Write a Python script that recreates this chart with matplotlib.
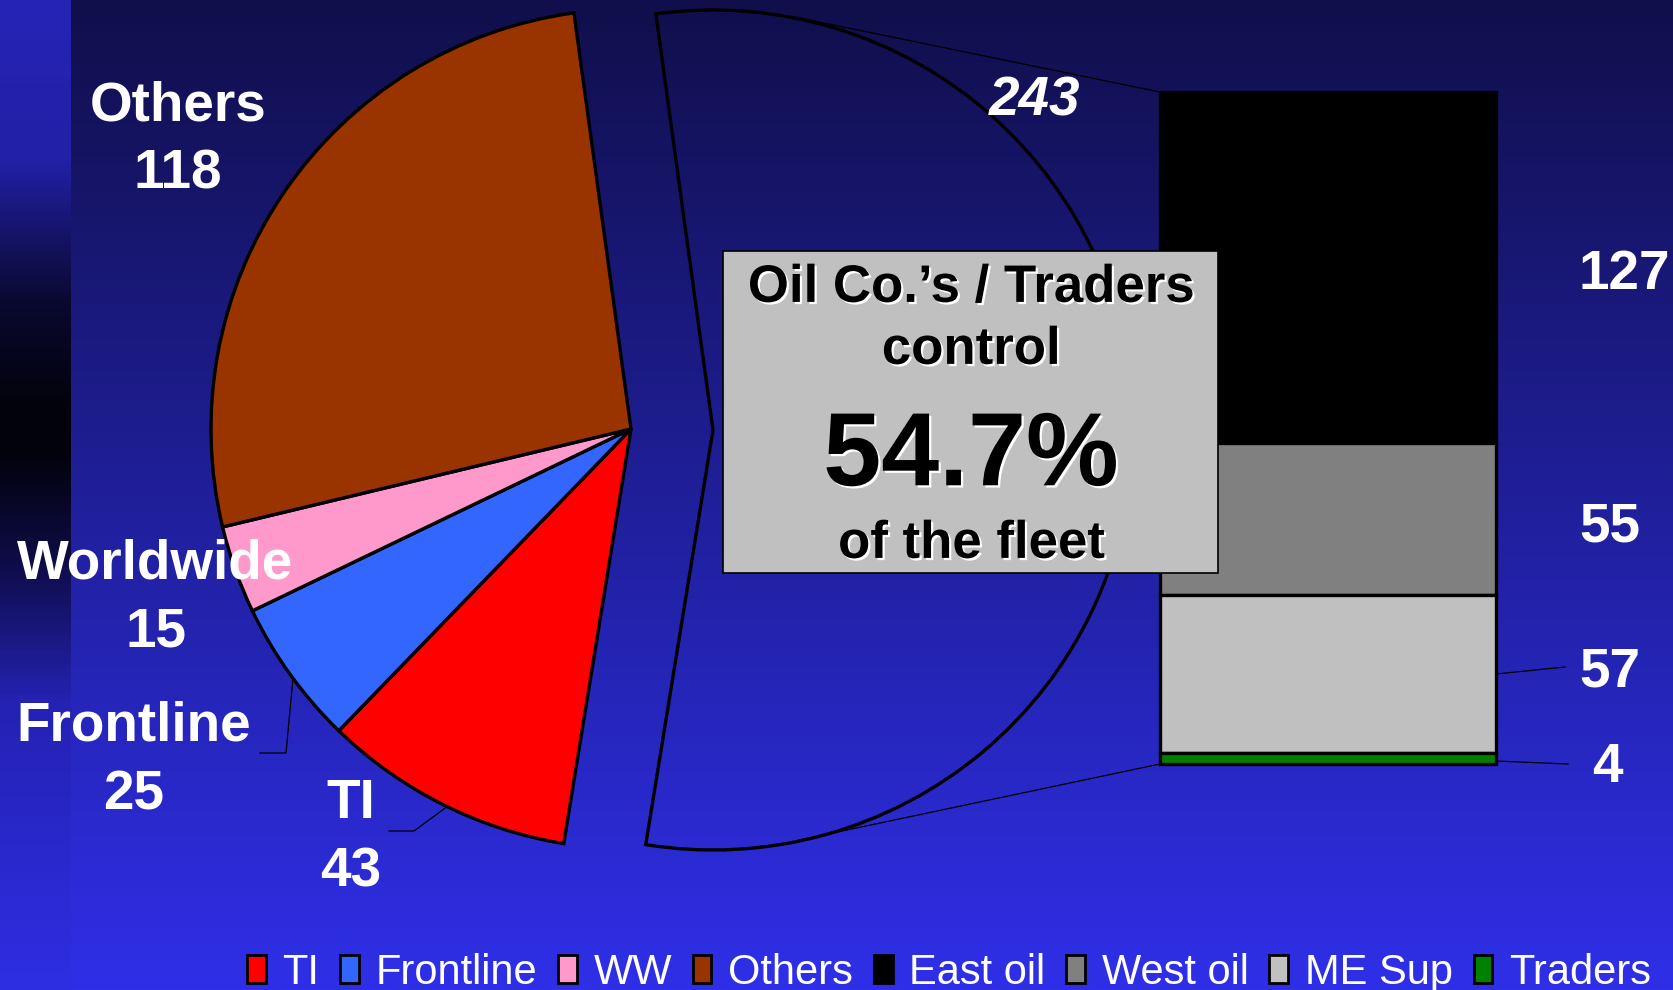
import numpy as np
import matplotlib
matplotlib.use('Agg')
import matplotlib.pyplot as plt
from matplotlib.patches import Patch, Rectangle
import matplotlib.patheffects as pe

# ---------------- data ----------------
pie_names = ['TI', 'Frontline', 'Worldwide', 'Others']
pie_legend_names = ['TI', 'Frontline', 'WW', 'Others']
pie_values = [43, 25, 15, 118]
pie_colors = ['#FF0000', '#3366FF', '#FF99CC', '#993300']

bar_names = ['East oil', 'West oil', 'ME Sup', 'Traders']
bar_values = [127, 55, 57, 4]
bar_colors = ['#000000', '#808080', '#C0C0C0', '#008000']

box_lines = ['Oil Co.\u2019s / Traders', 'control', '54.7%', 'of the fleet']

oil_total = sum(bar_values)
grand_total = oil_total + sum(pie_values)

# ---------------- figure ----------------
W, H = 1673, 990
fig = plt.figure(figsize=(W / 100, H / 100), dpi=100)
FONT = 'Liberation Sans'


def Y(y):
    return H - y


# background axes
ax_bg = fig.add_axes([0, 0, 1, 1], zorder=0)
ax_bg.set_xlim(0, W)
ax_bg.set_ylim(0, H)
ax_bg.axis('off')
top_c = np.array([16, 15, 75]) / 255
bot_c = np.array([47, 47, 232]) / 255
t = np.linspace(0, 1, 512)[:, None]
grad = top_c + (bot_c - top_c) * t
ax_bg.imshow(grad[:, None, :], extent=(71, W, 0, H), origin='upper', aspect='auto')

stops_y = [0, 160, 300, 410, 450, 560, 700, 990]
stops_c = [(38, 36, 182), (34, 32, 165), (10, 9, 48), (2, 2, 10), (2, 2, 10),
           (14, 12, 70), (36, 34, 178), (46, 46, 228)]
yy = np.arange(H)
strip = np.stack([np.interp(yy, stops_y, [c[i] for c in stops_c]) for i in range(3)], axis=1) / 255
ax_bg.imshow(strip[:, None, :], extent=(0, 71, 0, H), origin='upper', aspect='auto')

# ---------------- pie ----------------
R = 420.0
cx, cy = 631.0, 429.0
ax_pie = fig.add_axes([0, 0, 1, 1], zorder=1)
explode_px = 82.0
start = 180.0 * oil_total / grand_total - 0.7
wedges, _ = ax_pie.pie([oil_total] + pie_values,
                       colors=['none'] + pie_colors,
                       startangle=start, counterclock=False,
                       radius=1.0, center=(0, 0),
                       explode=[explode_px / R, 0, 0, 0, 0],
                       wedgeprops=dict(edgecolor='black', linewidth=2.4),
                       frame=True)
ax_pie.set_xlim(-cx / R, (W - cx) / R)
ax_pie.set_ylim(-(H - cy) / R, cy / R)
ax_pie.set_aspect('auto')
ax_pie.axis('off')
ax_pie.patch.set_alpha(0)

# ---------------- bar ----------------
bx0, bx1, by0, by1 = 1160, 1496, 92, 764
ax_bar = fig.add_axes([bx0 / W, (H - by1) / H, (bx1 - bx0) / W, (by1 - by0) / H], zorder=1)
bottoms = np.concatenate([[0], np.cumsum(bar_values[::-1])[:-1]])[::-1]
ax_bar.bar([0] * len(bar_values), bar_values, bottom=bottoms, width=1.0,
           color=bar_colors, edgecolor='black', linewidth=2.4, clip_on=False)
ax_bar.set_xlim(-0.5, 0.5)
ax_bar.set_ylim(0, oil_total)
ax_bar.axis('off')
ax_bar.patch.set_alpha(0)

# ---------------- overlay ----------------
ax = fig.add_axes([0, 0, 1, 1], zorder=2)
ax.set_xlim(0, W)
ax.set_ylim(0, H)
ax.axis('off')
ax.patch.set_alpha(0)

# connector lines (tangents from bar corners to exploded slice)
ecx, ecy = cx + explode_px, Y(cy)


def tangent(px, py, sign):
    dx, dy = px - ecx, py - ecy
    d = np.hypot(dx, dy)
    a = np.arctan2(dy, dx) + sign * np.arccos(R / d)
    return ecx + R * np.cos(a), ecy + R * np.sin(a)


tx, ty = tangent(bx0, Y(by0), +1)
ax.plot([bx0, tx], [Y(by0), ty], color='black', lw=0.9)
tx, ty = tangent(bx0, Y(by1), -1)
ax.plot([bx0, tx], [Y(by1), ty], color='black', lw=0.9)

label_fs = 39.5


def ctext(x, y, s, fs=label_fs, color='white', ha='center', style='normal', **kw):
    base = y + 0.716 * fs * 100 / 72 / 2
    return ax.text(x, Y(base), s, fontsize=fs, color=color, ha=ha, va='baseline',
                   fontfamily=FONT, fontweight='bold', fontstyle=style, **kw)


# pie labels
name_pos = [(351, 798), (134, 721), (155, 559), (178, 101)]
val_pos = [(351, 867), (134, 790), (156, 627), (178, 169)]
for nm, v, (nx, ny), (vx, vy) in zip(pie_names, pie_values, name_pos, val_pos):
    ctext(nx, ny, nm)
    ctext(vx, vy, str(v))

# leader lines for pie labels
ax.plot([260, 286, 293], [Y(753), Y(753), Y(678)], color='black', lw=0.9)
ax.plot([389, 414, 448], [Y(831), Y(831), Y(806)], color='black', lw=0.9)

# oil slice label
ctext(1035, 96, str(oil_total), style='italic')

# bar labels
seg_h = (by1 - by0) / oil_total
centers = [by0 + (sum(bar_values[:i]) + v / 2) * seg_h for i, v in enumerate(bar_values)]
bar_lab_x = [1579, 1579, 1579, 1592]
bar_lab_dy = [2, 3, -7, 4]
for v, yc, lx, dy in zip(bar_values, centers, bar_lab_x, bar_lab_dy):
    ctext(lx, yc + dy, str(v), ha='left')
ax.plot([bx1, 1565], [Y(674), Y(667)], color='black', lw=0.9)
ax.plot([bx1, 1568], [Y(761), Y(764)], color='black', lw=0.9)

# text box
ax.add_patch(Rectangle((723, Y(573)), 1218 - 723, 573 - 251, facecolor='#C0C0C0',
                       edgecolor='black', lw=1.2, zorder=3))
shadow = [pe.SimplePatchShadow(offset=(1.6, -1.6), shadow_rgbFace='white', alpha=1.0), pe.Normal()]
box_y = [283, 345, 448, 539]
box_fs = [38, 38, 75, 38]
for s, yb, fs in zip(box_lines, box_y, box_fs):
    t_ = ctext(971, yb, s, fs=fs, color='black', zorder=4)
    t_.set_path_effects(shadow)

# legend
handles = [Patch(facecolor=c, edgecolor='black', linewidth=2.0) for c in pie_colors + bar_colors]
labels = pie_legend_names + bar_names
leg = fig.legend(handles, labels, loc='center', bbox_to_anchor=(949 / W, 1 - 973 / H), ncol=8,
                 frameon=False, prop={'family': FONT, 'size': 30}, labelcolor='white',
                 handlelength=0.45, handleheight=0.66, handletextpad=0.4, columnspacing=0.5,
                 borderaxespad=0, borderpad=0)
leg.set_zorder(5)

fig.savefig('out.png', dpi=100)
